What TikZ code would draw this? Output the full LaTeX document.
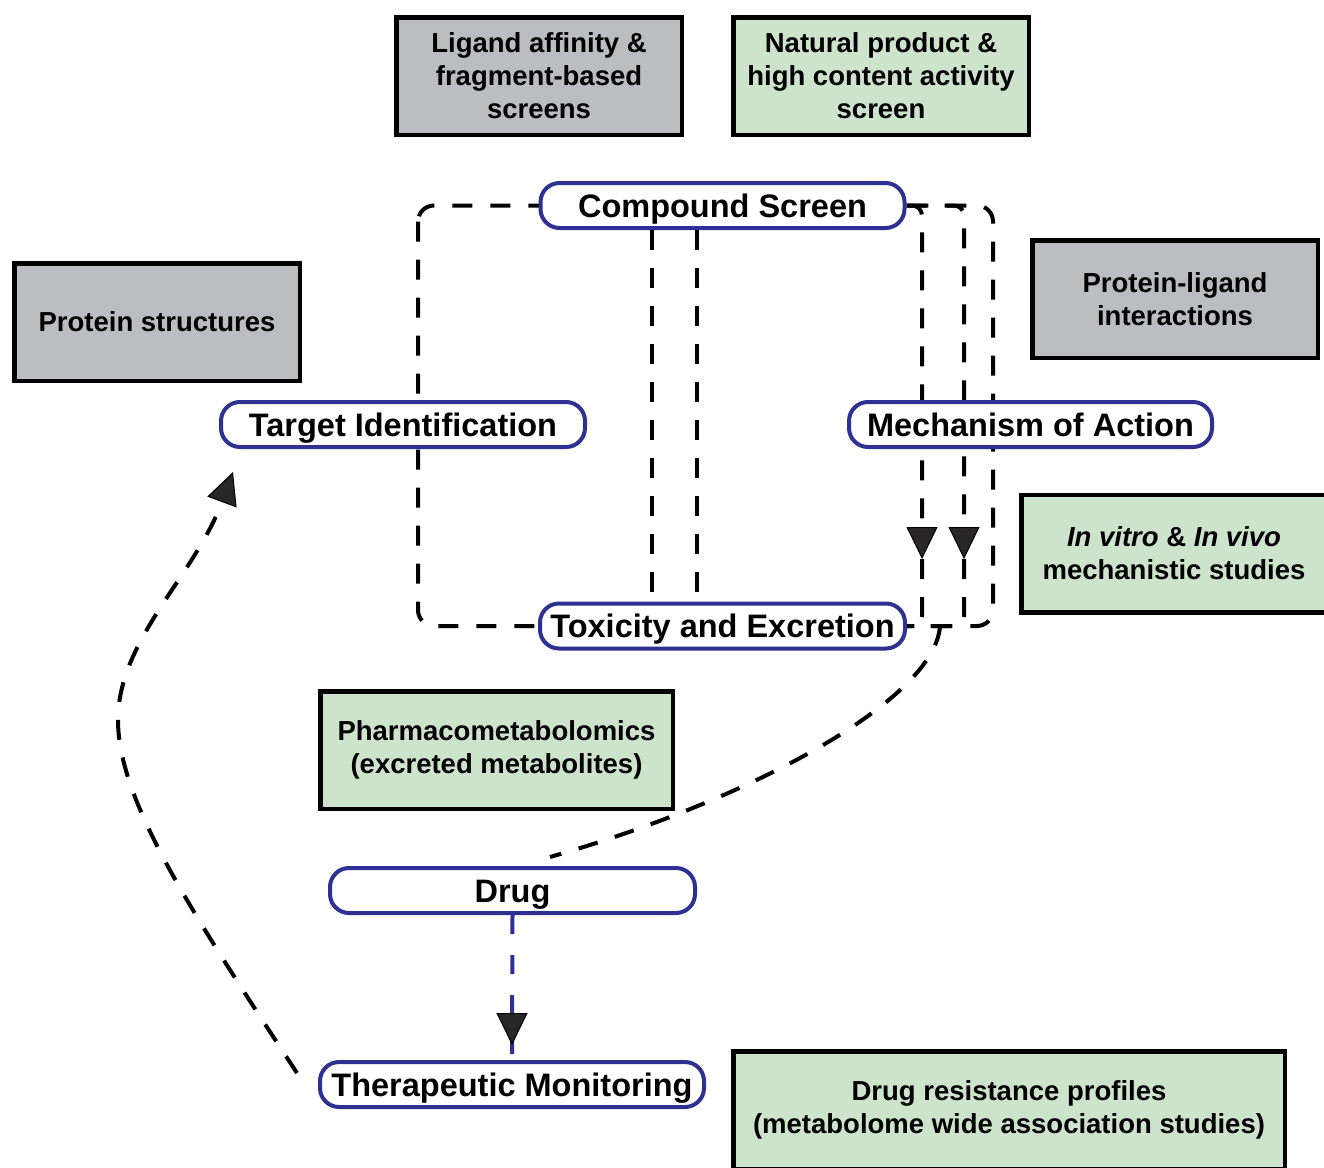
\documentclass[tikz,border=0pt]{standalone}
\usepackage{fontspec}
\setmainfont{Liberation Sans}
\usetikzlibrary{arrows.meta}
\pgfdeclarelayer{bg}
\pgfsetlayers{bg,main}
\definecolor{boxgray}{HTML}{BCBDC0}
\definecolor{boxgreen}{HTML}{CDE3CB}
\definecolor{nodeblue}{HTML}{2E3192}
\definecolor{tipfill}{HTML}{2A2627}
\begin{document}
\begin{tikzpicture}[x=1pt,y=-1pt,
 gbox/.style={draw=black, line width=4.5pt, align=center, inner sep=0pt, minimum height=117.5pt, font=\fontsize{27.5}{33}\selectfont\bfseries},
 graybox/.style={gbox, fill=boxgray},
 greenbox/.style={gbox, fill=boxgreen},
 pill/.style={draw=nodeblue, line width=4pt, fill=white, rounded corners=19pt, minimum height=45pt, inner sep=0pt, text height=26pt, text depth=3pt, font=\fontsize{32.5}{38}\selectfont\bfseries},
 dl/.style={draw=black, line width=4pt, dash pattern=on 20pt off 18pt},
 headarrow/.style={-{Triangle[length=32pt,width=31pt,fill=tipfill,color=black,line width=1pt]}}
]
\useasboundingbox (0,0) rectangle (1324,1167);
\clip (0,0) rectangle (1324,1167);

% information boxes
\node[graybox, minimum width=285.5pt] (lig) at (539,76) {Ligand affinity \&\\fragment-based\\screens};
\node[greenbox, minimum width=295.5pt] (nat) at (881,76) {Natural product \&\\high content activity\\screen};
\node[graybox, minimum width=285.5pt] (pstruct) at (157,322) {Protein structures};
\node[graybox, minimum width=285.5pt] (plig) at (1175,299) {Protein-ligand\\interactions};
\node[greenbox, minimum width=305.5pt] (vitro) at (1174,553.5) {\textit{In vitro} \& \textit{In vivo}\\mechanistic studies};
\node[greenbox, minimum width=352.5pt] (pharma) at (496.5,750) {Pharmacometabolomics\\(excreted metabolites)};
\node[greenbox, minimum width=551.5pt] (resist) at (1009,1110) {Drug resistance profiles\\(metabolome wide association studies)};

% process nodes
\node[pill, minimum width=364pt] (cs) at (722.5,205.5) {Compound Screen};
\node[pill, minimum width=364pt] (target) at (403,424.5) {Target Identification};
\node[pill, minimum width=363pt] (moa) at (1030.5,424.5) {Mechanism of Action};
\node[pill, minimum width=365pt] (tox) at (722.5,626) {Toxicity and Excretion};
\node[pill, minimum width=365pt] (drug) at (512.5,890.5) {Drug};
\node[pill, minimum width=384pt] (tm) at (512,1084.5) {Therapeutic Monitoring};

% free ends
\coordinate (loopTL) at (418,205.5);
\coordinate (loopBR) at (993,626);
\coordinate (tipA) at (922,559);
\coordinate (tipB) at (964,559);
\coordinate (curveS) at (940,626);
\coordinate (curveE) at (550,857);
\coordinate (bigS) at (297,1073);
\coordinate (bigM) at (118,720);
\coordinate (bigE) at (233,472);
\coordinate (drugTip) at (512,1045);

\begin{pgfonlayer}{bg}
\fill[white] (0,0) rectangle (1324,1167);
\draw[dl, rounded corners=16pt] (loopTL) rectangle (loopBR);
\draw[dl] ([xshift=-70.5pt]cs.south) -- ([xshift=-70.5pt]tox.north);
\draw[dl] ([xshift=-25.5pt]cs.south) -- ([xshift=-25.5pt]tox.north);
\draw[dl, rounded corners=10pt, headarrow] (cs.east) -| (tipA);
\draw[dl, rounded corners=10pt, headarrow] (cs.east) -| (tipB);
\draw[dl, rounded corners=10pt] (tipA) |- (tox.east);
\draw[dl, rounded corners=10pt] (tipB) |- (tox.east);
\draw[dl] (curveS) .. controls (935,700) and (750,800) .. (curveE);
\draw[dl, headarrow] (bigS) .. controls (190,910) and (118,800) .. (bigM) .. controls (118,640) and (195,575) .. (bigE);
\draw[nodeblue, line width=4pt, dash pattern=on 19pt off 21pt] (drug.south) -- (tm.north);
\end{pgfonlayer}
\draw[line width=4pt, nodeblue, headarrow] ([yshift=32pt]drugTip) -- (drugTip);
\end{tikzpicture}
\end{document}
